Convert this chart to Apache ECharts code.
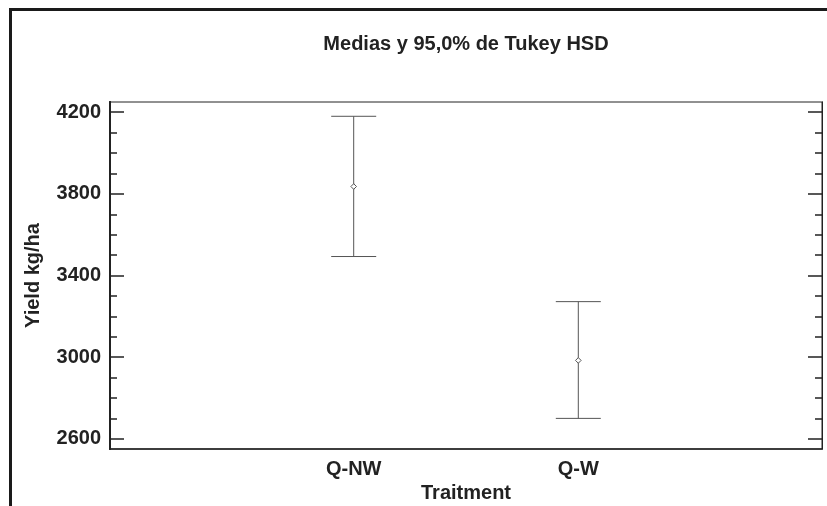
<!DOCTYPE html>
<html>
<head>
<meta charset="utf-8">
<script src="https://cdn.jsdelivr.net/npm/echarts@6/dist/echarts.min.js"></script>
<style>html,body{margin:0;padding:0;background:#fff;}#c{width:827px;height:506px;}</style>
</head>
<body>
<div id="c"></div>
<script>
var categories = ['Q-NW', 'Q-W'];
var means = [3836, 2984];
var lowerLimits = [3493, 2700];
var upperLimits = [4180, 3272];
var yMajorTicks = [2600, 3000, 3400, 3800, 4200];
var yMinorTicks = [2700, 2800, 2900, 3100, 3200, 3300, 3500, 3600, 3700, 3900, 4000, 4100];

var FONT = '"Liberation Sans", Arial, sans-serif';
var TXT = '#222222';

var barData = categories.map(function (c, i) {
  return [i + 1, means[i], lowerLimits[i], upperLimits[i]];
});

function yAxisDef(pos, ticks, len, labels) {
  return {
    type: 'value', position: pos, offset: 0, min: 2550, max: 4250,
    splitLine: { show: false },
    axisLine: { show: true, onZero: false, lineStyle: { color: '#222', width: pos === 'left' ? 2 : 1 } },
    axisTick: { show: true, inside: true, length: len, customValues: ticks, lineStyle: { color: '#222', width: 1.5 } },
    axisLabel: labels ? {
      show: true, customValues: ticks, margin: 9,
      formatter: function (v) { return String(v); },
      fontFamily: FONT, fontSize: 20, fontWeight: 'bold', color: TXT
    } : { show: false }
  };
}

var chart = echarts.init(document.getElementById('c'), null, { renderer: 'canvas' });
chart.setOption({
  animation: false,
  backgroundColor: '#ffffff',
  title: {
    text: 'Medias y 95,0% de Tukey HSD', left: 461, top: 29, textAlign: 'center',
    textStyle: { fontFamily: FONT, fontSize: 20, fontWeight: 'bold', color: TXT }
  },
  grid: {
    left: 110, right: 5, top: 102, bottom: 57, containLabel: false, outerBoundsMode: 'none',
    show: true, borderColor: '#222', borderWidth: 1, backgroundColor: 'transparent'
  },
  xAxis: {
    type: 'value', min: -0.085, max: 3.085,
    name: 'Traitment', nameLocation: 'middle', nameGap: 34,
    nameTextStyle: { fontFamily: FONT, fontSize: 20, fontWeight: 'bold', color: TXT },
    splitLine: { show: false },
    axisLine: { show: true, onZero: false, lineStyle: { color: '#222', width: 1.5 } },
    axisTick: { show: false },
    axisLabel: {
      customValues: [1, 2], margin: 10,
      formatter: function (v) { return categories[Math.round(v) - 1]; },
      fontFamily: FONT, fontSize: 20, fontWeight: 'bold', color: TXT
    }
  },
  yAxis: [
    Object.assign(yAxisDef('left', yMajorTicks, 14, true), {
      name: 'Yield kg/ha', nameLocation: 'middle', nameGap: 67, nameRotate: 90, nameMoveOverlap: false,
      nameTextStyle: { fontFamily: FONT, fontSize: 20, fontWeight: 'bold', color: TXT }
    }),
    yAxisDef('left', yMinorTicks, 7, false),
    yAxisDef('right', yMajorTicks, 14, false),
    yAxisDef('right', yMinorTicks, 7, false)
  ],
  series: [{
    type: 'custom',
    xAxisIndex: 0, yAxisIndex: 0,
    data: barData,
    encode: { x: 0, y: [1, 2, 3] },
    renderItem: function (params, api) {
      var x = api.value(0);
      var pM = api.coord([x, api.value(1)]);
      var pL = api.coord([x, api.value(2)]);
      var pH = api.coord([x, api.value(3)]);
      var hw = 22.5, d = 2.8;
      var style = { stroke: '#555', lineWidth: 1, fill: null };
      return {
        type: 'group',
        children: [
          { type: 'line', shape: { x1: pM[0], y1: pH[1], x2: pM[0], y2: pL[1] }, style: style },
          { type: 'line', shape: { x1: pM[0] - hw, y1: pH[1], x2: pM[0] + hw, y2: pH[1] }, style: style },
          { type: 'line', shape: { x1: pM[0] - hw, y1: pL[1], x2: pM[0] + hw, y2: pL[1] }, style: style },
          { type: 'polygon', shape: { points: [[pM[0], pM[1] - d], [pM[0] + d, pM[1]], [pM[0], pM[1] + d], [pM[0] - d, pM[1]]] },
            style: { stroke: '#555', lineWidth: 1, fill: '#fff' } }
        ]
      };
    }
  }],
  graphic: [
    { type: 'line', shape: { x1: 10.5, y1: 9.5, x2: 10.5, y2: 506 }, style: { stroke: '#1a1a1a', lineWidth: 3 } },
    { type: 'line', shape: { x1: 9, y1: 9.5, x2: 827, y2: 9.5 }, style: { stroke: '#1a1a1a', lineWidth: 3 } }
  ]
});
</script>
</body>
</html>
